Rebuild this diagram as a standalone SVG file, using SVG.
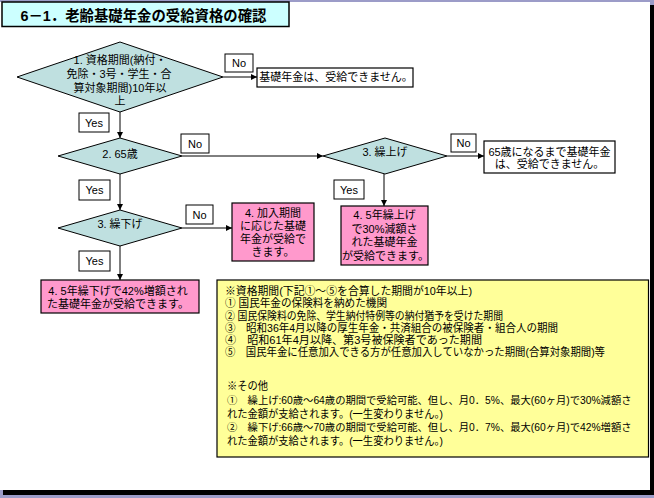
<svg xmlns="http://www.w3.org/2000/svg" width="654" height="498" viewBox="0 0 654 498">
<style>
text{font-family:"Liberation Sans","Noto Sans CJK JP",sans-serif;font-size:11px;fill:#000}
.c{text-anchor:middle}
.s{font-size:10.3px}
.dia{fill:#bfe0e0;stroke:#000;stroke-width:1}
.lab{fill:#fff;stroke:#000;stroke-width:1}
.box{fill:#fff;stroke:#000;stroke-width:1.2}
.pink{fill:#ff99cc;stroke:#000;stroke-width:1.2}
.note{fill:#ffff99;stroke:#000;stroke-width:1.2}
.ln{stroke:#000;stroke-width:1;fill:none;marker-end:url(#ah)}
.title{font-size:15px;font-weight:bold}
</style>
<defs>
<marker id="ah" markerWidth="7" markerHeight="7" refX="6" refY="3.5" orient="auto" markerUnits="userSpaceOnUse">
<path d="M0,0.5 L6,3.5 L0,6.5 Z" fill="#000"/>
</marker>
</defs>
<rect x="0" y="0" width="654" height="498" fill="#9c9cc8"/>
<rect x="3" y="5" width="651" height="490" fill="#000"/>
<rect x="0" y="2" width="650" height="488" fill="#fff"/>

<g id="title">
<rect x="2" y="2" width="287" height="24.5" fill="#ccffff" stroke="#000" stroke-width="1.5"/>
<text class="title" x="20.5" y="21" textLength="246" lengthAdjust="spacingAndGlyphs">6－1．老齢基礎年金の受給資格の確認</text>
</g>

<g id="connectors">
<line class="ln" x1="223" y1="77" x2="257" y2="77"/>
<line class="ln" x1="120" y1="112" x2="120" y2="138"/>
<line class="ln" x1="182" y1="156" x2="323" y2="156"/>
<line class="ln" x1="120" y1="174" x2="120" y2="210"/>
<line class="ln" x1="447" y1="156" x2="484" y2="156"/>
<line class="ln" x1="384" y1="174" x2="384" y2="206"/>
<line class="ln" x1="182" y1="228" x2="232" y2="228"/>
<line class="ln" x1="120" y1="246" x2="120" y2="280"/>
</g>

<g id="labels">
<rect class="lab" x="225" y="54" width="28" height="18"/><text class="c" x="239" y="67">No</text>
<rect class="lab" x="181" y="134" width="28" height="19"/><text class="c" x="195" y="148">No</text>
<rect class="lab" x="451" y="134" width="25" height="18"/><text class="c" x="463.5" y="147">No</text>
<rect class="lab" x="186" y="205" width="27" height="19"/><text class="c" x="199.5" y="219">No</text>
<rect class="lab" x="79" y="113" width="30" height="19"/><text class="c" x="94" y="127">Yes</text>
<rect class="lab" x="79" y="180" width="31" height="20"/><text class="c" x="94.5" y="194">Yes</text>
<rect class="lab" x="79" y="251" width="31" height="20"/><text class="c" x="94.5" y="265">Yes</text>
<rect class="lab" x="334" y="180" width="30" height="19"/><text class="c" x="349" y="194">Yes</text>
</g>

<g id="d1">
<polygon class="dia" points="120,42 223,77 120,112 17,77"/>
<text class="c" x="120" y="64">1. 資格期間(納付・</text>
<text class="c" x="119" y="78">免除・3号・学生・合</text>
<text class="c" x="120" y="92">算対象期間)10年以</text>
<text class="c" x="120" y="105">上</text>
</g>

<g id="n-nobasic">
<rect class="box" x="257" y="68" width="156" height="19"/>
<text class="c" x="336" y="81">基礎年金は、受給できません。</text>
</g>

<g id="d2">
<polygon class="dia" points="120,138 182,156 120,174 58,156"/>
<text class="c" x="120" y="158">2. 65歳</text>
</g>

<g id="d3up">
<polygon class="dia" points="385,138 447,156 385,174 323,156"/>
<text class="c" x="385" y="156">3. 繰上げ</text>
</g>

<g id="n-until65">
<rect class="box" x="484" y="141" width="131" height="32"/>
<text class="c" x="549.5" y="156">65歳になるまで基礎年金</text>
<text class="c" x="549.5" y="168">は、受給できません。</text>
</g>

<g id="n-up">
<rect class="pink" x="341" y="206" width="87" height="59"/>
<text class="c" x="384.5" y="219">4. 5年繰上げ</text>
<text class="c" x="384.5" y="232.5">で30%減額さ</text>
<text class="c" x="384.5" y="246">れた基礎年金</text>
<text class="c" x="385.5" y="259.5">が受給できます。</text>
</g>

<g id="d3down">
<polygon class="dia" points="120,210 182,228 120,246 58,228"/>
<text class="c" x="120" y="228">3. 繰下げ</text>
</g>

<g id="n-normal">
<rect class="pink" x="232" y="203" width="82" height="58"/>
<text class="c" x="273" y="217">4. 加入期間</text>
<text class="c" x="273" y="230">に応じた基礎</text>
<text class="c" x="273" y="243">年金が受給で</text>
<text class="c" x="273" y="256">きます。</text>
</g>

<g id="n-down">
<rect class="pink" x="41" y="280" width="158" height="33"/>
<text class="c" x="118" y="295">4. 5年繰下げで42%増額され</text>
<text class="c" x="118" y="308">た基礎年金が受給できます。</text>
</g>

<g id="n-note">
<rect class="note" x="217" y="280" width="431.5" height="177"/>
<text x="225" y="295" textLength="247" lengthAdjust="spacingAndGlyphs">※資格期間(下記①～⑤を合算した期間が10年以上)</text>
<text x="225" y="307" textLength="162" lengthAdjust="spacingAndGlyphs">① 国民年金の保険料を納めた機関</text>
<text x="225" y="320" textLength="278" lengthAdjust="spacingAndGlyphs">② 国民保険料の免除、学生納付特例等の納付猶予を受けた期間</text>
<text x="225" y="332" textLength="333" lengthAdjust="spacingAndGlyphs">③　昭和36年4月以降の厚生年金・共済組合の被保険者・組合人の期間</text>
<text x="225" y="344" textLength="257" lengthAdjust="spacingAndGlyphs">④　昭和61年4月以降、第3号被保険者であった期間</text>
<text x="225" y="356" textLength="380" lengthAdjust="spacingAndGlyphs">⑤　国民年金に任意加入できる方が任意加入していなかった期間(合算対象期間)等</text>
<text x="227" y="390" textLength="41" lengthAdjust="spacingAndGlyphs">※その他</text>
<text class="s" x="227" y="404">①　繰上げ:60歳～64歳の期間で受給可能、但し、月0．5%、最大(60ヶ月)で30%減額さ</text>
<text x="227" y="418" textLength="216" lengthAdjust="spacingAndGlyphs">れた金額が支給されます。(一生変わりません。)</text>
<text class="s" x="227" y="431">②　繰下げ:66歳～70歳の期間で受給可能、但し、月0．7%、最大(60ヶ月)で42%増額さ</text>
<text x="227" y="445" textLength="216" lengthAdjust="spacingAndGlyphs">れた金額が支給されます。(一生変わりません。)</text>
</g>
</svg>
